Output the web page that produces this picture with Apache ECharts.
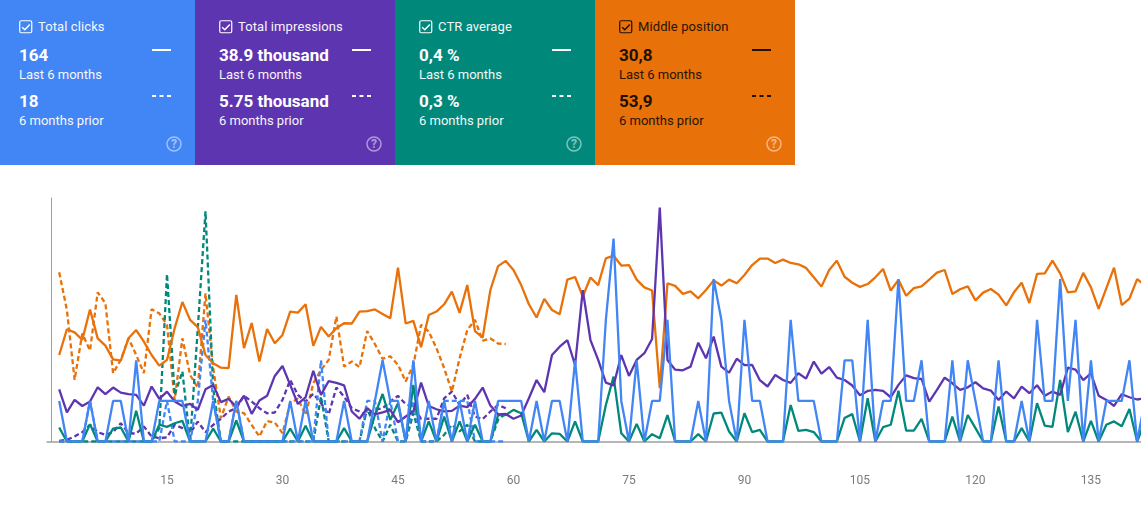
<!DOCTYPE html>
<html>
<head>
<meta charset="utf-8">
<script src="https://cdn.jsdelivr.net/npm/echarts@6/dist/echarts.min.js"></script>
<style>
html,body{margin:0;padding:0;background:#fff;overflow:hidden;font-family:Roboto,sans-serif}
#chart{position:absolute;left:0;top:0;width:1141px;height:510px}
.card{position:absolute;top:0;height:165px;color:#fff}
.card>*{position:absolute;white-space:nowrap}
.title{top:19px;font-size:13px;line-height:16px;font-weight:400;letter-spacing:.1px;opacity:.95}
.val{font-size:17px;line-height:20px;font-weight:700}
.sub{font-size:13px;line-height:16px;font-weight:400;opacity:.95}
</style>
</head>
<body>
<div id="chart"></div>
<div id="cards"></div>
<script>
// Daily figures, one entry per day, current period
const clicks = [1,0,0,0,1,0,0,1,1,0,2,0,0,1,1,1,1,0,0,0,1,0,0,1,0,0,0,0,0,0,1,0,1,0,0,0,0,1,0,0,0,1,2,1,1,0,2,0,1,0,1,0,1,0,1,0,0,1,1,1,1,0,1,0,1,1,0,2,0,0,0,3,5,1,0,2,0,1,1,3,0,0,0,1,0,4,3,1,0,3,1,1,0,0,0,3,1,1,1,0,0,0,2,2,0,3,0,1,1,4,1,1,2,0,0,0,2,0,2,1,0,0,2,0,0,1,0,3,1,1,4,1,3,0,2,0,1,1,1,2,0,1];
const impressions = [257,144,205,175,197,267,233,266,241,233,230,177,271,210,246,197,175,185,156,257,279,194,210,171,226,136,202,225,323,372,279,185,218,348,230,298,289,277,148,112,164,134,144,156,95,123,148,290,175,159,148,151,177,169,210,266,177,134,136,112,128,213,303,243,426,467,499,377,746,500,402,290,276,426,323,402,435,505,1153,402,354,351,369,487,410,517,369,339,408,376,377,302,271,328,303,289,336,310,394,335,367,315,303,276,228,249,254,249,218,279,326,312,308,197,254,315,287,254,267,292,262,251,205,246,213,271,238,277,225,246,230,364,354,303,336,226,205,175,233,218,207,213];
const ctr = [.46,0,0,0,.57,0,0,.42,.46,0,1.01,0,0,.55,.48,.60,.68,0,0,0,.42,0,0,.69,0,0,0,0,0,0,.42,0,.52,0,0,0,0,.44,0,0,0,.87,1.56,.71,1.26,0,1.86,0,.66,0,.82,0,.66,0,.55,0,0,.87,.87,1.04,.93,0,.38,0,.27,.25,0,.66,0,0,0,1.20,2.13,.27,0,.58,0,.24,.11,.87,0,0,0,.24,0,.92,.95,.33,0,.93,.31,.38,0,0,0,1.20,.35,.38,.31,0,0,0,.77,.90,0,1.42,0,.47,.55,1.67,.36,.36,.74,0,0,0,.82,0,.87,.44,0,0,1.15,0,0,.44,0,1.26,.52,.48,2.02,.31,.98,0,.68,0,.55,.66,.50,1.07,0,.66];
const position = [60.4,50.5,51.7,54.6,42.9,54.0,56.8,62.1,62.6,54.0,50.8,55.3,60.4,64.5,62.3,50.1,40.0,46.9,49.7,60.4,63.6,65.3,65.5,37.3,57.8,48.1,62.9,50.4,55.9,52.7,43.7,44.1,40.9,56.9,49.6,53.3,50.1,48.2,48.3,43.7,43.5,42.9,44.6,46.3,26.8,48.3,47.3,57.4,45.0,43.7,40.9,36.0,44.2,33.5,51.2,53.7,35.4,26.2,24.2,27.7,33.5,40.9,46.0,38.8,43.1,44.7,31.4,30.4,37.9,30.6,33.5,23.2,22.2,26.0,25.8,31.4,34.4,35.6,73.2,32.8,33.8,36.9,35.9,38.6,35.4,31.7,33.7,31.4,32.8,29.6,25.8,23.3,23.3,25.0,23.7,25.0,25.5,26.9,30.5,34.1,27.7,24.1,30.3,32.6,34.2,33.1,30.5,27.3,35.6,31.5,37.6,34.7,34.0,31.4,28.7,27.7,36.9,35.1,34.0,39.4,36.4,35.0,37.2,41.3,36.3,32.6,40.4,29.2,29.0,24.1,29.0,36.3,35.9,28.8,34.4,42.7,34.7,26.8,41.2,38.7,31.2,33.7];

// Same figures for the earlier comparison period
const clicksPrior = [0,0,0,0,1,0,0,0,0,0,0,0,0,0,1,0,0,0,1,3,1,0,0,1,0,0,0,0,0,0,0,0,0,0,2,0,0,0,0,0,1,1,0,1,0,0,1,0,0,0,1,1,1,1,0,0,0,0,0];
const impressionsPrior = [3,8,25,46,82,46,33,46,90,41,39,74,25,16,20,82,66,41,98,46,82,112,148,164,225,197,164,139,143,205,303,230,197,235,189,134,266,221,164,148,128,156,164,197,225,184,172,112,112,112,213,246,180,230,123,110,148,180,164];
const ctrPrior = [0,0,0,0,0,0,0,0,0,0,0,0,0,.44,5.50,1.53,2.30,0,3.72,7.56,1.75,0,0,0,0,0,0,0,0,0,0,0,0,0,1.48,0,0,0,0,0,1.09,.44,0,.55,0,0,.93,0,0,0,.22,.55,.33,.55,0,0,0,.71,.93];
const positionPrior = [28.6,43.1,70.0,52.1,58.7,36.3,40.5,67.4,62.3,54.0,60.4,67.4,42.8,44.4,48.8,77.7,54.0,68.1,73.0,36.7,65.5,84.7,76.4,82.2,82.8,87.3,91.8,85.8,86.4,90.5,79.0,77.1,83.5,71.3,66.2,62.3,45.6,64.9,62.9,65.1,51.2,56.2,61.9,60.9,64.2,70.6,64.2,48.8,51.4,57.8,65.5,74.5,61.7,50.8,46.9,54.9,54.0,56.0,56.2];

// Metric tiles
const tileNames = ['Total clicks','Total impressions','CTR average','Middle position'];
const tileCurrent = ['164','38.9 thousand','0,4 %','30,8'];
const tilePrior = ['18','5.75 thousand','0,3 %','53,9'];
const periodLabels = ['Last 6 months','6 months prior'];
const colors = ['#4285f4','#5e35b1','#00897b','#e8710a'];
const inks = ['#fff','#fff','#fff','#201000'];

const xMax = 141.5, xStep = 15;
const yMax = [6, 1200, 8, 93.7];

function tile(i){
  const ink = inks[i];
  const left = i === 0 ? 0 : 195 + (i-1)*200;
  const width = i === 0 ? 195 : 200;
  const dx = i === 0 ? 0 : 5;
  const el = document.createElement('div');
  el.className = 'card';
  el.style.cssText = `left:${left}px;width:${width}px;background:${colors[i]};color:${ink}`;
  el.innerHTML = `
    <svg style="left:${19+dx}px;top:20px" width="14" height="14" viewBox="0 0 14 14">
      <rect x=".75" y=".75" width="12" height="12" rx="1.5" fill="none" stroke="${ink}" stroke-width="1.2"/>
      <path d="M3.2 7.2 L5.8 9.7 L10.8 4.4" fill="none" stroke="${ink}" stroke-width="1.5"/>
    </svg>
    <div class="title" style="left:${38+dx}px">${tileNames[i]}</div>
    <div class="val" style="left:${19+dx}px;top:45px">${tileCurrent[i]}</div>
    <div class="sub" style="left:${19+dx}px;top:67px">${periodLabels[0]}</div>
    <div class="val" style="left:${19+dx}px;top:91px">${tilePrior[i]}</div>
    <div class="sub" style="left:${19+dx}px;top:113px">${periodLabels[1]}</div>
    <svg style="left:${152+dx}px;top:46px" width="20" height="54" viewBox="0 0 20 54">
      <line x1="0" x2="19" y1="4" y2="4" stroke="${ink}" stroke-width="2"/>
      <line x1="0" x2="19" y1="50" y2="50" stroke="${ink}" stroke-width="2" stroke-dasharray="4 3.5"/>
    </svg>
    <svg style="left:${166+dx}px;top:136px;opacity:.5" width="16" height="16" viewBox="0 0 16 16">
      <circle cx="8" cy="8" r="7" fill="none" stroke="#fff" stroke-width="1.5"/>
      <text x="8" y="12.2" text-anchor="middle" font-family="Roboto" font-size="12" font-weight="700" fill="#fff">?</text>
    </svg>`;
  document.getElementById('cards').appendChild(el);
}
tileNames.forEach((_, i) => tile(i));

function line(values, colorIndex, dashed, z){
  return {
    type: 'line',
    yAxisIndex: colorIndex,
    data: values.map((v, i) => [i + 1, v]),
    showSymbol: false,
    silent: true,
    z,
    lineStyle: {color: colors[colorIndex], width: 2.3, type: dashed ? [5, 3] : 'solid', cap: 'butt'}
  };
}

const hiddenY = (i) => ({
  type: 'value', min: 0, max: yMax[i], inverse: i === 3,
  show: false, splitLine: {show: false}
});

const chart = echarts.init(document.getElementById('chart'), null, {renderer: 'canvas'});
chart.setOption({
  animation: false,
  backgroundColor: '#fff',
  grid: {left: 51.5, right: 0, top: 198, height: 243.5, outerBoundsMode: 'none'},
  xAxis: {
    type: 'value', min: 0, max: xMax, interval: xStep,
    splitLine: {show: false},
    axisTick: {show: false},
    axisLine: {show: true, lineStyle: {color: '#9e9e9e', width: 1.5}},
    axisLabel: {
      margin: 33, color: '#7a7a7a', fontFamily: 'Roboto', fontSize: 12,
      formatter: (v) => (v > 0 && v % xStep === 0) ? String(v) : ''
    }
  },
  yAxis: [
    {
      type: 'value', min: 0, max: yMax[0],
      axisLabel: {show: false},
      splitLine: {show: false},
      axisLine: {show: true, lineStyle: {color: '#9e9e9e', width: 1}},
      axisTick: {show: true, length: 5, customValues: [0], lineStyle: {color: '#9e9e9e', width: 1.5}}
    },
    hiddenY(1), hiddenY(2), hiddenY(3)
  ],
  series: [
    line(positionPrior, 3, true, 2),
    line(ctrPrior, 2, true, 3),
    line(impressionsPrior, 1, true, 4),
    line(clicksPrior, 0, true, 5),
    line(position, 3, false, 6),
    line(ctr, 2, false, 7),
    line(impressions, 1, false, 8),
    line(clicks, 0, false, 9)
  ]
});
</script>
</body>
</html>
